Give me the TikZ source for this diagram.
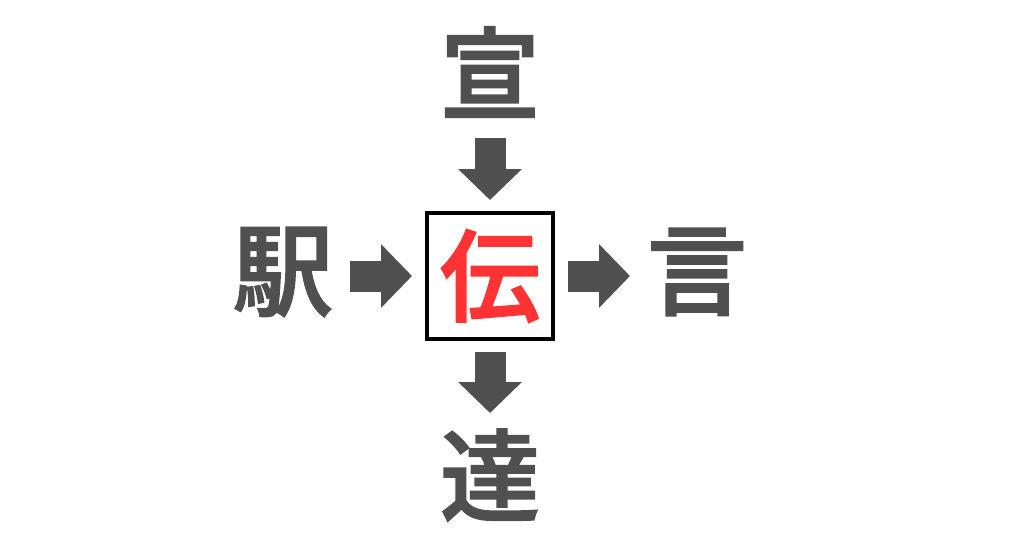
\documentclass[tikz,border=0pt]{standalone}
\usepackage{fontspec}
\newfontfamily\cjk{Noto Sans CJK JP Medium}[FakeBold=1.9]
\usetikzlibrary{arrows.meta}
\definecolor{kanjigray}{HTML}{505050}
\definecolor{kanjired}{HTML}{FF3333}
\tikzstyle{kanji} = [
    inner sep=0pt,
    text=kanjigray,
    font=\cjk\fontsize{100pt}{100pt}\selectfont
]
\tikzstyle{answer} = [
    rectangle,
    minimum size=126pt,
    line width=4pt,
    draw=black,
    fill=white,
    inner sep=0pt,
    text=kanjired,
    font=\cjk\fontsize{100pt}{100pt}\selectfont
]
\tikzstyle{arrow} = [
    draw=kanjigray,
    line width=31pt,
    -{Triangle[width=62pt,length=31pt]}
]
\begin{document}
\begin{tikzpicture}[x=1pt, y=-1pt]
\useasboundingbox (0,0) rectangle (1024,538);

\node (box) [answer] at (490,276) {伝};

\node (top) [kanji] at (490,72) {宣};
\node (left) [kanji] at (283,272) {駅};
\node (right) [kanji] at (697,272) {言};
\node (bottom) [kanji] at (490,475) {達};

\draw [arrow, shorten <=66pt, shorten >=11pt] (top.center) -- (box.north);
\draw [arrow, shorten <=67pt, shorten >=13pt] (left.center |- box.center) -- (box.west);
\draw [arrow, shorten <=13pt, shorten >=67pt] (box.east) -- (right.center |- box.center);
\draw [arrow, shorten <=11pt, shorten >=62pt] (box.south) -- (bottom.center);

\end{tikzpicture}
\end{document}
